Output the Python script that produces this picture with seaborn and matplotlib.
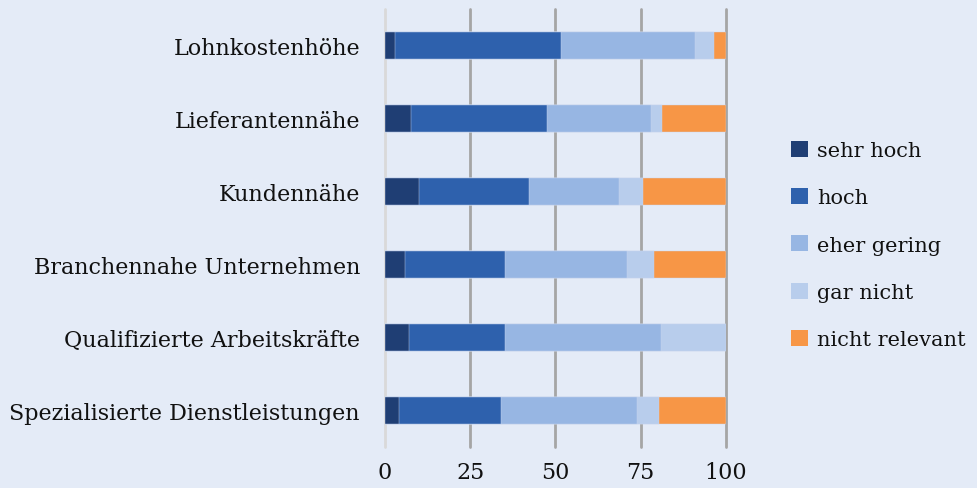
import matplotlib
matplotlib.use("Agg")
import matplotlib.pyplot as plt
import seaborn as sns
import pandas as pd
import numpy as np
from matplotlib.patches import Patch

categories = [
    "Lohnkostenhöhe",
    "Lieferantennähe",
    "Kundennähe",
    "Branchennahe Unternehmen",
    "Qualifizierte Arbeitskräfte",
    "Spezialisierte Dienstleistungen",
]
sehr_hoch = [2.9, 7.6, 10.0, 5.9, 7.0, 4.1]
hoch = [48.8, 40.0, 32.3, 29.3, 28.2, 29.9]
eher_gering = [39.2, 30.4, 26.4, 35.7, 45.7, 40.0]
gar_nicht = [5.6, 3.2, 7.1, 7.9, 19.1, 6.4]
nicht_relevant = [3.5, 18.8, 24.2, 21.2, 0.0, 19.6]

series_names = ["sehr hoch", "hoch", "eher gering", "gar nicht", "nicht relevant"]
series_values = [sehr_hoch, hoch, eher_gering, gar_nicht, nicht_relevant]
colors = ["#1F3E74", "#2E61AD", "#97B6E3", "#B8CDEC", "#F79646"]
bg = "#E4EBF7"

df = pd.DataFrame(dict(zip(series_names, series_values)), index=categories)
cum = df.cumsum(axis=1)

sns.set_theme(style="white")
plt.rcParams["font.family"] = ["DejaVu Serif"]

fig = plt.figure(figsize=(9.78, 4.89), dpi=100, facecolor=bg)
ax = fig.add_axes([385 / 978, 41 / 489, 341 / 978, 438 / 489])
ax.set_facecolor(bg)

# stacked bars: draw cumulative totals from the last segment backwards
for name, col in reversed(list(zip(series_names, colors))):
    sub = pd.DataFrame({"Kategorie": categories, "Wert": cum[name].values})
    sns.barplot(data=sub, y="Kategorie", x="Wert", color=col, orient="h",
                width=0.36, ax=ax, saturation=1, edgecolor="#C9D6EE",
                linewidth=0.3, zorder=3)

ax.set_xlim(0, 100)
ax.set_ylim(5.5, -0.5)
ax.set_xticks([0, 25, 50, 75, 100])
for x in [25, 50, 75, 100]:
    ax.axvline(x, color="#A5A5A5", lw=2.0, zorder=1, clip_on=False)
ax.axvline(0, color="#D9D9D9", lw=2.0, zorder=1, clip_on=False)
for s in ax.spines.values():
    s.set_visible(False)
ax.set_xlabel("")
ax.set_ylabel("")
ax.tick_params(axis="both", length=0, labelsize=16, colors="#111111")
ax.tick_params(axis="y", pad=18)
ax.tick_params(axis="x", pad=10)

handles = [Patch(facecolor=c, edgecolor="none") for c in colors]
fig.legend(handles, series_names, loc="center left",
           bbox_to_anchor=(783 / 978, 243 / 489), frameon=False,
           fontsize=15, handlelength=0.8, handleheight=0.8,
           handletextpad=0.45, labelspacing=1.35, borderaxespad=0,
           labelcolor="#111111")

fig.savefig("out.png", dpi=100, facecolor=bg)
